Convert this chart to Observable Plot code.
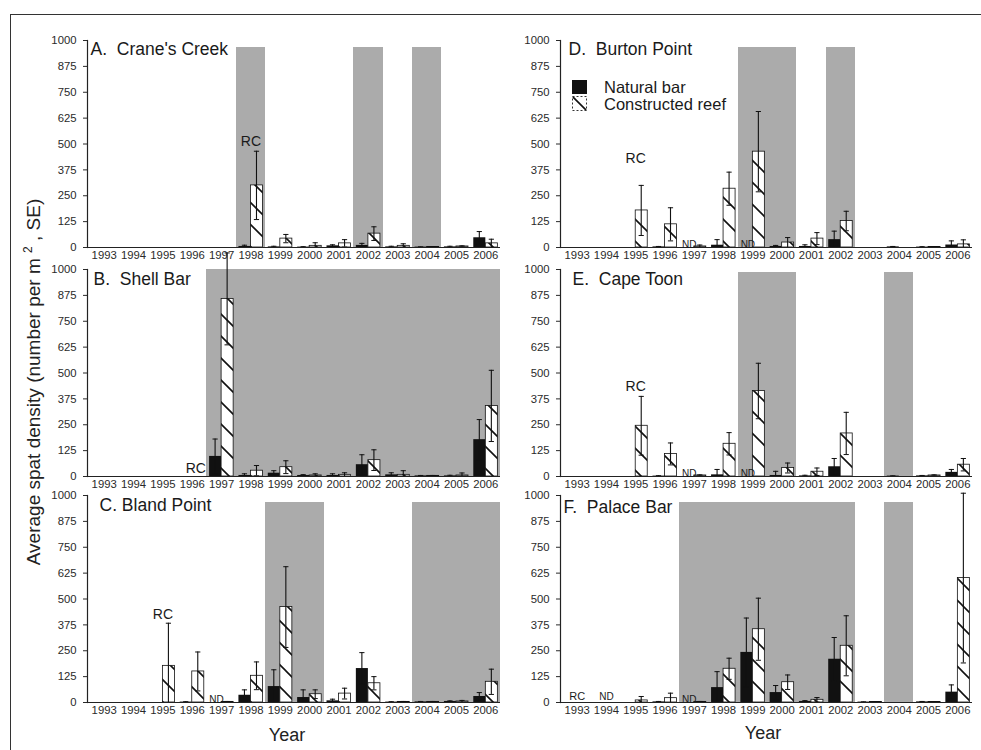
<!DOCTYPE html>
<html><head><meta charset="utf-8">
<script src="https://cdn.jsdelivr.net/npm/d3@7"></script>
<script src="https://cdn.jsdelivr.net/npm/@observablehq/plot@0.6"></script>
<style>
body{margin:0;background:#fff;font-family:"Liberation Sans",Arial,sans-serif;color:#1a1a1a;}
#fig{position:relative;width:981px;height:750px;overflow:hidden;background:#fff;}
.panel{position:absolute;}
.border{position:absolute;left:10px;top:14px;right:-10px;bottom:-10px;border-top:1.5px solid #333;border-left:1.5px solid #333;}
.ytitle{position:absolute;left:33px;top:382px;transform:translate(-50%,-50%) rotate(-90deg);white-space:nowrap;font-size:19px;color:#222;}
.ytitle sup{font-size:12px;}
.xtitle{position:absolute;font-size:18px;color:#222;transform:translate(-50%,-50%);}
.legend{position:absolute;left:572px;top:79px;font-size:16.5px;color:#1a1a1a;}
.legend div{height:16.5px;line-height:16.5px;display:flex;align-items:center;white-space:nowrap;}
.legend svg{margin-right:17px;}
</style></head><body>
<svg width="0" height="0" style="position:absolute">
<defs>
<pattern id="hatch" patternUnits="userSpaceOnUse" width="22" height="22">
<rect width="22" height="22" fill="#fff"/>
<path d="M-3,19 L3,25 M0,0 L22,22 M19,-3 L25,3" stroke="#111" stroke-width="1.6"/>
</pattern>
</defs></svg>
<div id="fig">
<div class="border"></div>
<div class="ytitle">Average spat density (number per m <sup>2</sup> , SE)</div>
<div class="xtitle" style="left:287px;top:735px;">Year</div>
<div class="xtitle" style="left:763px;top:733px;">Year</div>
</div>
<script>
// ---- data ----
const years = [1993,1994,1995,1996,1997,1998,1999,2000,2001,2002,2003,2004,2005,2006];
const yTicks = [0,125,250,375,500,625,750,875,1000];

// A. Crane's Creek
const craneNat    = [null,null,null,null,null,5,3,2,8,10,3,2,3,47];
const craneNatSe  = [null,null,null,null,null,6,3,2,5,10,3,1,3,30];
const craneReef   = [null,null,null,null,null,300,43,8,20,67,8,2,5,20];
const craneReefSe = [null,null,null,null,null,165,20,15,18,33,10,1,3,20];
const craneShade  = [1998,2002,2004];

// B. Shell Bar
const shellNat    = [null,null,null,null,97,5,16,5,5,57,8,3,3,178];
const shellNatSe  = [null,null,null,null,84,8,12,4,8,48,10,2,3,97];
const shellReef   = [null,null,null,null,858,28,45,5,8,79,8,3,5,341];
const shellReefSe = [null,null,null,null,222,25,31,8,10,50,20,2,12,172];
const shellShade  = [1997,1998,1999,2000,2001,2002,2003,2004,2005,2006];

// C. Bland Point
const blandNat    = [null,null,0,2,null,35,77,24,8,164,2,3,5,29];
const blandNatSe  = [null,null,0,2,null,26,81,37,8,77,2,2,3,19];
const blandReef   = [null,null,177,150,3,129,461,40,43,93,3,3,5,100];
const blandReefSe = [null,null,206,94,2,67,195,21,26,32,2,2,5,61];
const blandShade  = [1999,2000,2004,2005,2006];

// D. Burton Point
const burtonNat    = [null,null,0,3,null,11,null,5,5,38,0,3,2,12];
const burtonNatSe  = [null,null,0,2,null,27,null,5,8,41,0,2,2,20];
const burtonReef   = [null,null,179,112,5,284,463,24,43,128,0,0,2,15];
const burtonReefSe = [null,null,121,80,7,80,194,24,29,47,0,0,2,22];
const burtonShade  = [1999,2000,2002];

// E. Cape Toon
const toonNat    = [null,null,0,2,null,8,null,5,3,47,0,2,3,20];
const toonNatSe  = [null,null,0,2,null,26,null,20,3,40,0,1,2,14];
const toonReef   = [null,null,245,109,5,158,413,41,23,208,0,0,5,57];
const toonReefSe = [null,null,142,53,3,54,134,24,18,102,0,0,3,30];
const toonShade  = [1999,2000,2004];

// F. Palace Bar
const palaceNat    = [null,null,0,3,null,72,242,48,5,209,2,0,3,50];
const palaceNatSe  = [null,null,0,2,null,77,166,34,4,105,1,0,2,35];
const palaceReef   = [null,null,10,21,3,163,354,98,13,274,2,0,2,601];
const palaceReefSe = [null,null,19,24,2,51,150,35,11,145,1,0,2,410];
const palaceShade  = [1997,1998,1999,2000,2001,2002,2004];

// annotations: reef construction (RC) and no data (ND)
const rcYears = {A:1998, B:1997, C:1995, D:1995, E:1995, F:1993};
const rcValues = {A:488, B:19, C:404, D:410, E:412, F:14};
const ndYears = {A:[], B:[], C:[1997], D:[1997,1999], E:[1997,1999], F:[1997]};
const ndCenteredYears = {F:[1994]};

const titles = {A:"A.\u00a0 Crane's Creek", B:"B.\u00a0 Shell Bar", C:"C. Bland Point",
                D:"D.\u00a0 Burton Point", E:"E.\u00a0 Cape Toon", F:"F.\u00a0 Palace Bar"};

// ---- layout/style ----
const cols = [{left:0,width:502,ml:87,mr:2},{left:478,width:498,ml:82,mr:4}];
const rowTops = [18,247,473];
const MT = 22, PH = 207, MB = 24;
const panels = [
  {k:"A",col:0,row:0,nat:craneNat,natSe:craneNatSe,reef:craneReef,reefSe:craneReefSe,shade:craneShade,shadeTop:968,tdx:3,tdy:2,rcAnchor:"middle",rcSize:14},
  {k:"B",col:0,row:1,nat:shellNat,natSe:shellNatSe,reef:shellReef,reefSe:shellReefSe,shade:shellShade,shadeTop:1000,tdx:6,tdy:3,rcAnchor:"end",rcSize:14},
  {k:"C",col:0,row:2,nat:blandNat,natSe:blandNatSe,reef:blandReef,reefSe:blandReefSe,shade:blandShade,shadeTop:968,tdx:12,tdy:3,rcAnchor:"middle",rcSize:14},
  {k:"D",col:1,row:0,nat:burtonNat,natSe:burtonNatSe,reef:burtonReef,reefSe:burtonReefSe,shade:burtonShade,shadeTop:966,tdx:8,tdy:2,rcAnchor:"middle",rcSize:14},
  {k:"E",col:1,row:1,nat:toonNat,natSe:toonNatSe,reef:toonReef,reefSe:toonReefSe,shade:toonShade,shadeTop:985,tdx:12,tdy:3,rcAnchor:"middle",rcSize:14},
  {k:"F",col:1,row:2,nat:palaceNat,natSe:palaceNatSe,reef:palaceReef,reefSe:palaceReefSe,shade:palaceShade,shadeTop:968,tdx:3,tdy:5,rcAnchor:"middle",rcSize:11}
];

const fig = document.getElementById("fig");

function makePanel(p){
  const c = cols[p.col];
  const inset = 2;
  const step = (c.width - c.ml - c.mr - inset) / years.length;
  const gap = step * 0.09, half = step / 2;
  const cN = gap + (half - gap) / 2;            // natural bar centre from band start
  const cR = half + (step - gap - half) / 2;    // reef bar centre from band start
  const rows = years.map((year,i)=>({year, nat:p.nat[i], natSe:p.natSe[i], reef:p.reef[i], reefSe:p.reefSe[i]}));
  const natRows = rows.filter(d=>d.nat!=null);
  const reefRows = rows.filter(d=>d.reef!=null);
  const natErr = natRows.filter(d=>d.natSe>0);
  const reefErr = reefRows.filter(d=>d.reefSe>0);
  const errMarks = (data, v, se, ctr) => [
    Plot.barY(data, {x:"year", y1:d=>Math.max(0,d[v]-d[se]), y2:d=>d[v]+d[se], insetLeft:ctr-0.55, insetRight:step-ctr-0.55, fill:"#111"}),
    Plot.tickY(data, {x:"year", y:d=>d[v]+d[se], insetLeft:ctr-2.6, insetRight:step-ctr-2.6, stroke:"#111", strokeWidth:1}),
    Plot.tickY(data.filter(d=>d[v]-d[se]>0), {x:"year", y:d=>d[v]-d[se], insetLeft:ctr-2.6, insetRight:step-ctr-2.6, stroke:"#111", strokeWidth:1})
  ];
  const rc = [{year:rcYears[p.k], y:rcValues[p.k]}];
  const nd = (ndYears[p.k]||[]).map(year=>({year}));
  const ndc = (ndCenteredYears[p.k]||[]).map(year=>({year}));
  const plot = Plot.plot({
    width:c.width, height:MT+PH+MB, marginLeft:c.ml, marginRight:c.mr, marginTop:MT, marginBottom:MB,
    style:{fontFamily:"'Liberation Sans', Arial, sans-serif", fontSize:"11.3px", color:"#2a2a2a", background:"transparent", overflow:"visible"},
    x:{type:"band", domain:years, padding:0, round:false, insetLeft:inset, label:null, tickSize:0, tickPadding:3, tickFormat:d=>String(d)},
    y:{domain:[0,1000], ticks:yTicks, label:null, tickSize:4, tickPadding:7, tickFormat:d=>String(d)},
    marks:[
      Plot.barY(p.shade, {x:d=>d, y1:0, y2:p.shadeTop, fill:"#ababab", shapeRendering:"crispEdges"}),
      Plot.barY(natRows, {x:"year", y:"nat", insetLeft:gap, insetRight:half, fill:"#111"}),
      Plot.barY(reefRows, {x:"year", y:"reef", insetLeft:half, insetRight:gap, fill:"url(#hatch)", stroke:"#111", strokeWidth:0.8}),
      ...errMarks(natErr, "nat", "natSe", cN),
      ...errMarks(reefErr, "reef", "reefSe", cR),
      Plot.ruleY([0], {stroke:"#222", strokeWidth:1.2}),
      Plot.frame({anchor:"left", stroke:"#222", strokeWidth:1.2}),
      Plot.text(rc, {x:"year", y:"y", text:()=>"RC", lineAnchor:"bottom", textAnchor:p.rcAnchor,
        dx: p.rcAnchor==="end" ? -step/2 - 1 : 0, fontSize:p.rcSize, fill:"#1a1a1a"}),
      Plot.text(nd, {x:"year", y:0, text:()=>"ND", lineAnchor:"bottom", dx:cN - step/2 + 1, fontSize:10, fill:"#1a1a1a"}),
      Plot.text(ndc, {x:"year", y:0, text:()=>"ND", lineAnchor:"bottom", dy:-3, fontSize:10, fill:"#1a1a1a"}),
      Plot.text([titles[p.k]], {frameAnchor:"top-left", text:d=>d, textAnchor:"start", lineAnchor:"top", dx:p.tdx, dy:p.tdy, fontSize:17.5, fill:"#1a1a1a"})
    ]
  });
  plot.classList.add("panel");
  plot.style.left = c.left + "px";
  plot.style.top = rowTops[p.row] + "px";
  fig.appendChild(plot);
}
panels.forEach(makePanel);

// legend (inside panel D)
const legend = document.createElement("div");
legend.className = "legend";
legend.innerHTML =
  '<div><svg width="15" height="14"><rect x="0" y="0" width="15" height="14" fill="#111"/></svg>Natural bar</div>' +
  '<div><svg width="15" height="15"><rect x="0.5" y="0.5" width="14" height="14" fill="url(#hatch)" stroke="#333" stroke-dasharray="2,2"/></svg>Constructed reef</div>';
fig.appendChild(legend);
</script>
</body></html>
